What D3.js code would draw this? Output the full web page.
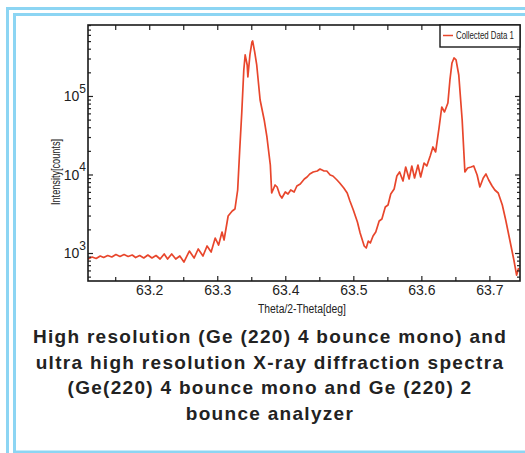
<!DOCTYPE html>
<html><head><meta charset="utf-8">
<script src="https://cdn.jsdelivr.net/npm/d3@7"></script>
<style>body{margin:0;background:#fff}svg{display:block}</style></head><body>
<svg id="c" width="525" height="453"></svg>
<script>
// ---- data ----
const theta = [63.110,63.116,63.122,63.128,63.133,63.139,63.145,63.151,63.157,63.163,63.169,63.175,63.180,63.186,63.192,63.198,63.204,63.210,63.216,63.222,63.227,63.233,63.239,63.245,63.251,63.259,63.266,63.272,63.279,63.285,63.291,63.297,63.302,63.307,63.310,63.316,63.322,63.326,63.330,63.333,63.336,63.339,63.341,63.344,63.345,63.348,63.351,63.352,63.355,63.358,63.363,63.369,63.373,63.378,63.380,63.385,63.388,63.392,63.395,63.400,63.404,63.408,63.413,63.417,63.422,63.428,63.432,63.436,63.441,63.447,63.451,63.457,63.461,63.466,63.470,63.476,63.480,63.486,63.491,63.495,63.500,63.506,63.510,63.516,63.519,63.522,63.525,63.529,63.533,63.538,63.542,63.547,63.551,63.555,63.560,63.564,63.568,63.573,63.577,63.582,63.586,63.590,63.595,63.599,63.604,63.608,63.613,63.617,63.621,63.626,63.630,63.634,63.639,63.642,63.645,63.648,63.651,63.655,63.660,63.664,63.668,63.673,63.677,63.682,63.686,63.691,63.695,63.699,63.704,63.708,63.713,63.719,63.724,63.730,63.736,63.740,63.743];
const counts = [839,889,851,916,876,929,889,957,903,957,903,943,876,929,864,943,864,929,839,971,839,971,839,916,768,1060,864,1125,916,1228,1030,1553,1264,1851,1464,2960,3428,3635,6346,20520,60740,214400,333000,248300,174600,333000,487500,501900,363600,248300,88920,49470,30040,13210,5810,7350,6930,5482,5021,5985,5644,6346,5985,7136,7568,8764,9294,10150,10760,11080,11750,11080,11080,9854,9570,8510,7794,6730,5810,4597,3530,2483,1798,1228,1158,1422,1341,1647,1851,2556,2711,3855,4088,5644,6535,9570,10760,8264,12460,8764,12830,9025,13210,9294,14010,12830,17210,22410,19350,39120,72400,62540,81450,159900,263300,305000,287500,185100,49470,10760,12100,12460,12830,9854,6930,9025,10150,8510,7136,6346,5810,4088,2632,1464,814,524,644];
const xTicks = [63.2,63.3,63.4,63.5,63.6,63.7];
const xTickLabels = ["63.2","63.3","63.4","63.5","63.6","63.7"];
const xMinorTicks = [63.15,63.25,63.35,63.45,63.55,63.65];
const yTicks = [1e3,1e4,1e5];
const yTickExps = ["3","4","5"];
const yMinorTicks = [500,600,700,800,900,2000,3000,4000,5000,6000,7000,8000,9000,20000,30000,40000,50000,60000,70000,80000,90000,200000,300000,400000,500000,600000,700000,800000];
const xDomain = [63.11,63.745];
const yDomain = [440,801600];
const legendLabel = "Collected Data 1";
const xLabel = "Theta/2-Theta[deg]";
const yLabel = "Intensity[counts]";
const captionLines = [
  "High resolution (Ge (220) 4 bounce mono) and",
  "ultra high resolution X-ray diffraction spectra",
  "(Ge(220) 4 bounce mono and Ge (220) 2",
  "bounce analyzer"
];

// ---- drawing ----
const svg = d3.select("#c");
const frameColor = "#8cd5f3";
const narrow = "'Liberation Sans Narrow','Arial Narrow','Liberation Sans',Arial,sans-serif";

svg.append("rect").attr("width",525).attr("height",453).attr("fill","#fff");
svg.append("rect").attr("x",7.5).attr("y",8.5).attr("width",600).attr("height",500)
  .attr("fill","none").attr("stroke",frameColor).attr("stroke-width",3);
svg.append("rect").attr("x",14.5).attr("y",14.5).attr("width",600).attr("height",437.5)
  .attr("fill","none").attr("stroke",frameColor).attr("stroke-width",3);

const L=88,R=520,T=25,B=281;
const x = d3.scaleLinear().domain(xDomain).range([L,R]);
const y = d3.scaleLog().domain(yDomain).range([B,T]);

svg.append("defs").append("clipPath").attr("id","clip")
  .append("rect").attr("x",L).attr("y",T).attr("width",R-L).attr("height",B-T);

// curve
const pts = theta.map((t,i)=>[t,counts[i]]);
svg.append("path").datum(pts)
  .attr("clip-path","url(#clip)")
  .attr("fill","none").attr("stroke","#e8462c").attr("stroke-width",1.7)
  .attr("stroke-linejoin","round")
  .attr("d",d3.line().x(d=>x(d[0])).y(d=>y(d[1])));

function styleAxis(g){
  g.select(".domain").remove();
  g.selectAll(".tick line").attr("stroke","#222").attr("stroke-width",1.2);
  g.selectAll(".tick text").attr("fill","#222").attr("font-family",narrow).attr("font-size",14);
}

// bottom axis
svg.append("g").attr("transform",`translate(0,${B})`)
  .call(d3.axisBottom(x).tickValues(xTicks).tickSize(-5).tickPadding(4).tickFormat((d,i)=>xTickLabels[i]))
  .call(styleAxis);
svg.append("g").attr("transform",`translate(0,${B})`)
  .call(d3.axisBottom(x).tickValues(xMinorTicks).tickSize(-4).tickFormat(""))
  .call(styleAxis);
// top axis
svg.append("g").attr("transform",`translate(0,${T})`)
  .call(d3.axisTop(x).tickValues(xTicks.concat(xMinorTicks)).tickSize(-5).tickFormat(""))
  .call(styleAxis);
// left axis
const gl = svg.append("g").attr("transform",`translate(${L},0)`)
  .call(d3.axisLeft(y).tickValues(yTicks).tickSize(-5).tickPadding(2).tickFormat(""))
  .call(styleAxis);
gl.selectAll(".tick text").each(function(d,i){
  const t=d3.select(this);
  t.append("tspan").text("10").attr("dy","0.35em");
  t.append("tspan").text(yTickExps[i]).attr("dy","-0.7em").attr("font-size",12);
});
svg.append("g").attr("transform",`translate(${L},0)`)
  .call(d3.axisLeft(y).tickValues(yMinorTicks.filter(v=>v>yDomain[0]&&v<yDomain[1])).tickSize(-3).tickFormat(""))
  .call(styleAxis);
// right axis
svg.append("g").attr("transform",`translate(${R},0)`)
  .call(d3.axisRight(y).tickValues(yTicks).tickSize(-5).tickFormat(""))
  .call(styleAxis);
svg.append("g").attr("transform",`translate(${R},0)`)
  .call(d3.axisRight(y).tickValues(yMinorTicks.filter(v=>v>yDomain[0]&&v<yDomain[1])).tickSize(-3).tickFormat(""))
  .call(styleAxis);

// box
svg.append("rect").attr("x",L).attr("y",T).attr("width",R-L).attr("height",B-T)
  .attr("fill","none").attr("stroke","#1a1a1a").attr("stroke-width",1.6);

// legend
svg.append("rect").attr("x",440).attr("y",T).attr("width",R-440).attr("height",22)
  .attr("fill","#fff").attr("stroke","#1a1a1a").attr("stroke-width",1.4);
svg.append("line").attr("x1",443).attr("x2",453).attr("y1",35.5).attr("y2",35.5)
  .attr("stroke","#e8462c").attr("stroke-width",1.5);
const lt = svg.append("text").attr("font-family",narrow).attr("font-size",10.5)
  .attr("fill","#222").text(legendLabel);
const ltw = lt.node().getComputedTextLength();
lt.attr("transform",`translate(456,39) scale(${58/ltw},1)`);

// axis labels
svg.append("text").attr("x",302).attr("y",313).attr("text-anchor","middle")
  .attr("font-family",narrow).attr("font-size",12).attr("fill","#222")
  .attr("textLength",88).attr("lengthAdjust","spacingAndGlyphs").text(xLabel);
svg.append("text").attr("transform","translate(60,172) rotate(-90)").attr("text-anchor","middle")
  .attr("font-family",narrow).attr("font-size",12).attr("fill","#222")
  .attr("textLength",66).attr("lengthAdjust","spacingAndGlyphs").text(yLabel);

// caption
svg.append("g").selectAll("text").data(captionLines).join("text")
  .attr("x",270).attr("y",(d,i)=>343+i*25.7)
  .attr("text-anchor","middle").attr("font-family","'Liberation Sans',Arial,sans-serif")
  .attr("font-weight","bold").attr("font-size",19).attr("letter-spacing",1.3)
  .attr("fill","#222").text(d=>d);
</script></body></html>
